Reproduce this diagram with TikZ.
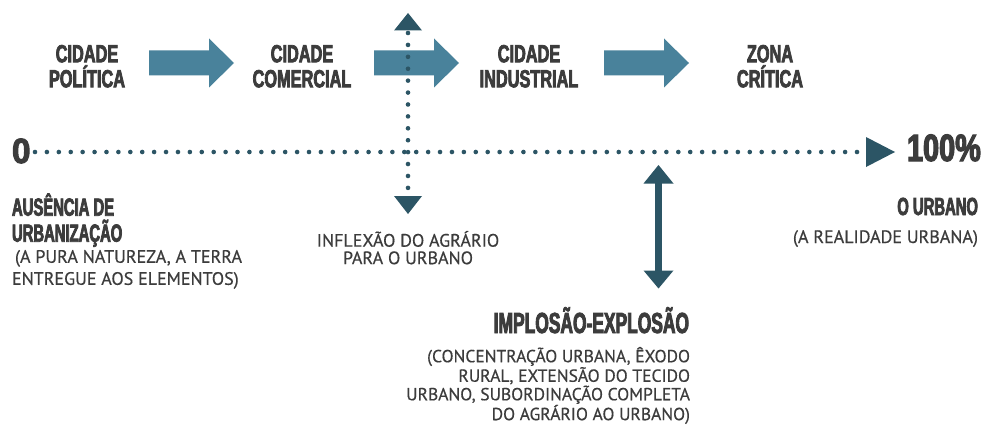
\documentclass[tikz,border=0pt]{standalone}
\usepackage{fontspec}
\setmainfont{PT Sans}[FakeBold=0.5]
\newfontfamily\headfont[FakeStretch=0.66,FakeBold=3]{Liberation Sans}
\newfontfamily\headfontn[FakeStretch=0.6,FakeBold=3]{Liberation Sans}
\newfontfamily\numfont[FakeStretch=0.76,FakeBold=3]{Liberation Sans}
\newfontfamily\zerofont[FakeStretch=0.95,FakeBold=3]{Liberation Sans}
\definecolor{textc}{RGB}{60,60,60}
\definecolor{blu}{RGB}{73,130,155}
\definecolor{dark}{RGB}{44,85,101}
\begin{document}
\begin{tikzpicture}[x=1pt,y=-1pt,
  every node/.style={inner sep=0pt,outer sep=0pt,text=textc},
  head/.style={font=\headfont\bfseries\fontsize{24.7}{25}\selectfont,align=center},
  headl/.style={font=\headfontn\bfseries\fontsize{24.7}{26}\selectfont,align=left},
  body/.style={font=\fontsize{18}{18.5}\selectfont},
  dots/.style={dark,line width=4.6pt,line cap=round,dash pattern=on 0pt off 11.913pt},
  blockarr/.pic={\fill[blu] (0,-12.5) -- (60,-12.5) -- (60,-24.5) -- (85,0) -- (60,24.5) -- (60,12.5) -- (0,12.5) -- cycle;}
]
\useasboundingbox[fill=white] (0,0) rectangle (981,425);

% stage labels
\node[head,anchor=north] (cp) at (87,45) {CIDADE\\POLÍTICA};
\node[head,anchor=north] (cc) at (302,45) {CIDADE\\COMERCIAL};
\node[head,anchor=north] (ci) at (529,45) {CIDADE\\INDUSTRIAL};
\node[head,anchor=north] (zc) at (770,45) {ZONA\\CRÍTICA};

% block arrows
\pic at (149,63) {blockarr};
\pic at (374,63) {blockarr};
\pic at (604,63) {blockarr};

% axis
\node[font=\zerofont\bfseries\fontsize{35}{35}\selectfont,anchor=base west] (zero) at (12,163) {0};
\node[font=\numfont\bfseries\fontsize{38}{38}\selectfont,anchor=base west] (hundred) at (907,161) {100\%};
\coordinate (hs) at (35,152);
\coordinate (he) at (857,152);
\draw[dots] (hs) -- (he);
\fill[dark] (866,137) -- (866,167) -- (895,152) -- cycle;

% inflexion (vertical dotted)
\coordinate (vs) at (408,33);
\coordinate (ve) at (408,188);
\draw[dots] (vs) -- (ve);
\fill[dark] (394,30.5) -- (422,30.5) -- (408,13) -- cycle;
\fill[dark] (394,196) -- (422,196) -- (408,214) -- cycle;

% implosion-explosion double arrow
\coordinate (ds) at (658.5,180);
\coordinate (de) at (658.5,274);
\draw[dark,line width=6.5pt] (ds) -- (de);
\fill[dark] (643.5,183.5) -- (673.5,183.5) -- (658.5,165) -- cycle;
\fill[dark] (643.5,270.5) -- (673.5,270.5) -- (658.5,288.5) -- cycle;

% lower labels
\node[headl,anchor=north west] (aus) at (12,193.5) {AUSÊNCIA DE\\URBANIZAÇÃO};
\node[body,align=left,anchor=north west,font=\fontsize{18}{22}\selectfont] (pura) at (12,250) {\hspace{3pt}(A PURA NATUREZA, A TERRA\\ENTREGUE AOS ELEMENTOS)};
\node[body,align=center,anchor=north,font=\fontsize{18}{17.5}\selectfont] (infl) at (408,231) {INFLEXÃO DO AGRÁRIO\\PARA O URBANO};
\node[font=\headfontn\bfseries\fontsize{24.7}{25}\selectfont,anchor=base east] (ourb) at (978,215) {O URBANO};
\node[body,anchor=base east] (real) at (978,243) {(A REALIDADE URBANA)};
\node[font=\headfontn\bfseries\fontsize{29}{29}\selectfont,anchor=base east] (impl) at (689,333) {IMPLOSÃO-EXPLOSÃO};
\node[body,align=right,anchor=north east,font=\fontsize{17.5}{18.5}\selectfont] (conc) at (690,347) {(CONCENTRAÇÃO URBANA, ÊXODO\\RURAL, EXTENSÃO DO TECIDO\\URBANO, SUBORDINAÇÃO COMPLETA\\DO AGRÁRIO AO URBANO)};
\end{tikzpicture}
\end{document}
